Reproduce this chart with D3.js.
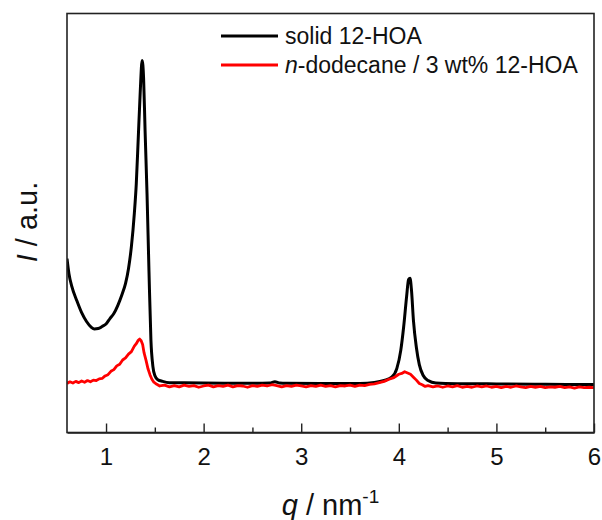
<!DOCTYPE html>
<html>
<head>
<meta charset="utf-8">
<script src="https://cdn.jsdelivr.net/npm/d3@7"></script>
<style>
  html, body { margin: 0; padding: 0; background: #fff; }
  svg { display: block; font-family: "Liberation Sans", Arial, sans-serif; }
</style>
</head>
<body>
<svg id="chart" width="602" height="520"></svg>
<script>
// SAXS profiles: scattering vector q (nm^-1) against intensity (arbitrary units)

const xTicks = [1, 2, 3, 4, 5, 6];
const xMinorTicks = [1.5, 2.5, 3.5, 4.5, 5.5];

const seriesNames = ["solid 12-HOA", "n-dodecane / 3 wt% 12-HOA"];
const seriesColors = ["#000000", "#ff0000"];

// solid 12-HOA
const qSolid = [
  0.60, 0.62, 0.65, 0.70, 0.75, 0.80, 0.85, 0.88, 0.92, 0.96,
  1.00, 1.04, 1.08, 1.12, 1.16, 1.20, 1.23, 1.26, 1.29, 1.31,
  1.33, 1.35, 1.37, 1.385, 1.40, 1.42, 1.44, 1.46, 1.48, 1.50,
  1.53, 1.58, 1.65, 1.80, 2.00, 2.30, 2.60, 2.68, 2.73, 2.78,
  2.85, 3.20, 3.60, 3.75, 3.85, 3.93, 3.98, 4.02, 4.05, 4.08,
  4.10, 4.115, 4.13, 4.15, 4.18, 4.21, 4.25, 4.30, 4.38, 4.60,
  5.00, 5.50, 6.00
];
const iSolid = [
  41.5, 37.9, 34.8, 31.5, 28.6, 26.5, 25.1, 24.7, 24.8, 25.3,
  25.9, 27.2, 28.4, 30.3, 32.7, 35.6, 39.1, 44.4, 52.3, 59.4,
  70.2, 81.1, 88.8, 84.5, 72.1, 57.0, 38.5, 22.0, 15.8, 13.6,
  12.6, 12.2, 11.9, 11.86, 11.8, 11.78, 11.77, 11.8, 12.1, 11.8,
  11.74, 11.7, 11.72, 11.93, 12.41, 13.25, 15.3, 19.6, 25.3, 32.5,
  36.5, 36.8, 33.9, 26.7, 20.3, 16.2, 13.6, 12.4, 11.8, 11.65,
  11.6, 11.5, 11.46
];

// n-dodecane / 3 wt% 12-HOA gel
const qGel = [
  0.60, 0.63, 0.66, 0.69, 0.72, 0.75, 0.78, 0.81, 0.84, 0.87,
  0.90, 0.93, 0.96, 0.99, 1.02, 1.05, 1.08, 1.11, 1.14, 1.17,
  1.20, 1.23, 1.26, 1.29, 1.31, 1.33, 1.345, 1.36, 1.375, 1.39,
  1.41, 1.43, 1.45, 1.47, 1.49, 1.52, 1.55, 1.60, 1.65, 1.70,
  1.75, 1.80, 1.85, 1.90, 1.95, 2.00, 2.05, 2.10, 2.15, 2.20,
  2.25, 2.30, 2.35, 2.40, 2.45, 2.50, 2.55, 2.60, 2.65, 2.70,
  2.75, 2.80, 2.85, 2.90, 2.95, 3.00, 3.05, 3.10, 3.15, 3.20,
  3.25, 3.30, 3.35, 3.40, 3.45, 3.50, 3.55, 3.60, 3.65, 3.70,
  3.75, 3.80, 3.85, 3.90, 3.95, 4.00, 4.03, 4.06, 4.09, 4.12,
  4.15, 4.18, 4.21, 4.24, 4.27, 4.30, 4.35, 4.40, 4.45, 4.50,
  4.55, 4.60, 4.65, 4.70, 4.75, 4.80, 4.85, 4.90, 4.95, 5.00,
  5.05, 5.10, 5.15, 5.20, 5.25, 5.30, 5.35, 5.40, 5.45, 5.50,
  5.55, 5.60, 5.65, 5.70, 5.75, 5.80, 5.85, 5.90, 5.95, 6.00
];
const iGel = [
  11.7, 12.1, 11.8, 12.2, 11.9, 12.3, 12.0, 12.4, 12.1, 12.5,
  12.4, 12.8, 12.9, 13.5, 13.8, 14.6, 15.0, 15.9, 16.3, 17.3,
  17.8, 18.7, 19.3, 20.6, 21.2, 22.0, 22.3, 21.9, 21.0, 19.0,
  17.2, 15.2, 13.8, 12.7, 12.0, 11.5, 11.1, 11.3, 10.9, 11.2,
  10.9, 11.3, 11.0, 11.2, 10.8, 11.1, 11.3, 10.9, 11.2, 11.0,
  11.3, 10.9, 11.2, 11.1, 10.8, 11.2, 11.0, 11.3, 11.1, 11.4,
  11.2, 10.9, 11.2, 11.0, 11.3, 11.1, 10.9, 11.2, 11.0, 11.3,
  11.0, 11.2, 10.9, 11.2, 11.1, 11.3, 11.0, 11.3, 11.2, 11.5,
  11.6, 11.9, 12.2, 12.7, 13.1, 13.9, 14.1, 14.5, 14.2, 13.9,
  13.2, 12.5, 11.7, 11.4, 11.0, 11.2, 10.9, 11.1, 10.8, 11.1,
  10.9, 11.2, 10.8, 11.0, 10.8, 11.1, 10.9, 11.1, 10.8, 11.0,
  10.7, 11.0, 10.8, 11.1, 10.9, 10.7, 11.0, 10.8, 11.0, 10.7,
  10.9, 10.8, 11.0, 10.7, 10.9, 10.6, 10.9, 10.7, 10.8, 10.7
];

const margin = { left: 67, right: 8, top: 13.5, bottom: 87.5 };
const W = 602, H = 520;
const x0 = margin.left, x1 = W - margin.right;
const y0 = H - margin.bottom, y1 = margin.top;

const svg = d3.select("#chart");
const x = d3.scaleLinear().domain([0.6, 6]).range([x0, x1]);
const y = d3.scaleLinear().domain([0, 100]).range([y0, y1]);

svg.append("defs").append("clipPath").attr("id", "plotArea")
  .append("rect").attr("x", x0).attr("y", y1)
  .attr("width", x1 - x0).attr("height", y0 - y1);

const line = d3.line().x(d => x(d[0])).y(d => y(d[1]));
const solidPts = qSolid.map((q, i) => [q, iSolid[i]]);
const gelPts = qGel.map((q, i) => [q, iGel[i]]);

const plot = svg.append("g").attr("clip-path", "url(#plotArea)");
plot.append("path").datum(solidPts)
  .attr("d", line.curve(d3.curveMonotoneX))
  .attr("fill", "none").attr("stroke", seriesColors[0])
  .attr("stroke-width", 3).attr("stroke-linejoin", "round");
plot.append("path").datum(gelPts)
  .attr("d", line.curve(d3.curveLinear))
  .attr("fill", "none").attr("stroke", seriesColors[1])
  .attr("stroke-width", 2.8).attr("stroke-linejoin", "round");

// frame
svg.append("rect").attr("x", x0).attr("y", y1)
  .attr("width", x1 - x0).attr("height", y0 - y1)
  .attr("fill", "none").attr("stroke", "#222").attr("stroke-width", 1.6);

// x axis: inward major and minor ticks
const xAxis = svg.append("g").attr("transform", `translate(0,${y0})`)
  .call(d3.axisBottom(x).tickValues(xTicks).tickFormat(d3.format("d"))
    .tickSizeInner(-9).tickSizeOuter(0).tickPadding(15));
xAxis.select(".domain").attr("stroke", "#222").attr("stroke-width", 1.6);
xAxis.selectAll(".tick line").attr("stroke", "#222").attr("stroke-width", 1.4);
xAxis.selectAll(".tick text").attr("font-size", 24).attr("fill", "#111")
  .style("font-family", "'Liberation Sans', Arial, sans-serif");

const xMinor = svg.append("g").attr("transform", `translate(0,${y0})`)
  .call(d3.axisBottom(x).tickValues(xMinorTicks).tickFormat("")
    .tickSizeInner(-5).tickSizeOuter(0));
xMinor.select(".domain").remove();
xMinor.selectAll(".tick line").attr("stroke", "#222").attr("stroke-width", 1.4);

// axis titles
const xt = svg.append("text").attr("x", (x0 + x1) / 2).attr("y", 515)
  .attr("text-anchor", "middle").attr("font-size", 29).attr("fill", "#111");
xt.append("tspan").attr("font-style", "italic").text("q");
xt.append("tspan").text(" / nm");
xt.append("tspan").attr("font-size", 19).attr("dy", -12).text("-1");

const yt = svg.append("text")
  .attr("transform", `translate(37,222) rotate(-90)`)
  .attr("text-anchor", "middle").attr("font-size", 29).attr("fill", "#111");
yt.append("tspan").attr("font-style", "italic").text("I");
yt.append("tspan").text(" / a.u.");

// legend
const legend = svg.append("g");
const rows = [36, 65];
seriesNames.forEach((name, i) => {
  legend.append("line").attr("x1", 221).attr("x2", 278)
    .attr("y1", rows[i]).attr("y2", rows[i])
    .attr("stroke", seriesColors[i]).attr("stroke-width", 3);
  const t = legend.append("text").attr("x", 285).attr("y", rows[i])
    .attr("dy", "0.35em").attr("font-size", 23).attr("fill", "#111");
  if (name.startsWith("n-")) {
    t.append("tspan").attr("font-style", "italic").text("n");
    t.append("tspan").text(name.slice(1));
  } else {
    t.text(name);
  }
});
</script>
</body>
</html>
